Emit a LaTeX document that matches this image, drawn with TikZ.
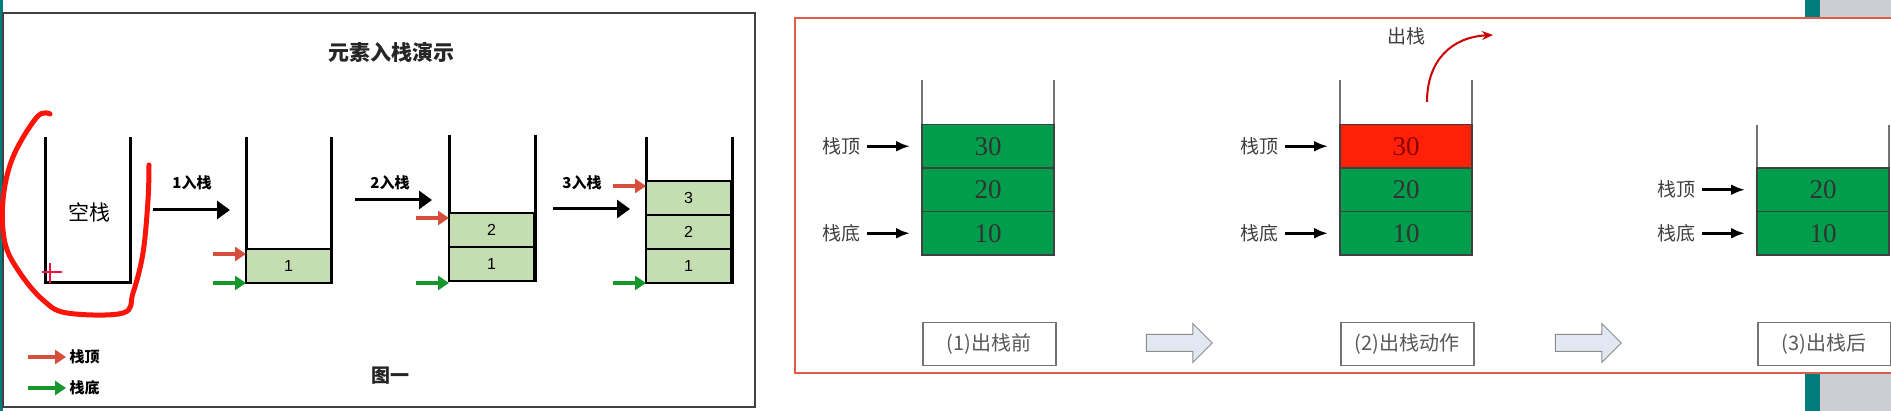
\documentclass[tikz,border=0pt]{standalone}
\usepackage{fontspec}
\setmainfont{Liberation Serif}
\setsansfont{Liberation Sans}
\newfontfamily\cjk{Noto Sans CJK SC}
\usetikzlibrary{arrows.meta}
\usetikzlibrary{positioning, shapes.arrows, math}
\definecolor{lightgreen}{RGB}{196,222,178}
\definecolor{topred}{RGB}{214,78,62}
\definecolor{bottomgreen}{RGB}{22,150,45}
\definecolor{stackgreen}{RGB}{0,158,76}
\definecolor{popred}{RGB}{255,32,8}
\definecolor{framered}{RGB}{222,92,72}
\definecolor{arrowfill}{RGB}{226,232,242}
\definecolor{stripteal}{RGB}{0,124,124}
\definecolor{sidegray}{RGB}{204,206,212}
\definecolor{penred}{RGB}{250,20,10}

\begin{document}
\begin{tikzpicture}[x=1pt, y=-1pt,
  wall/.style={line width=3pt},
  lbox/.style={draw, line width=2pt, fill=lightgreen, minimum width=\bwl pt, minimum height=\bhl pt, inner sep=0pt, outer sep=0pt, font=\sffamily\fontsize{16}{16}\selectfont},
  pushline/.style={-{Triangle[length=13pt,width=18pt]}, line width=3pt},
  topptr/.style={-{Triangle[length=11pt,width=14pt]}, line width=4pt, topred},
  botptr/.style={-{Triangle[length=11pt,width=14pt]}, line width=4pt, bottomgreen},
  llabel/.style={font=\cjk\bfseries\fontsize{15}{15}\selectfont},
  rwall/.style={line width=1.5pt, black!55},
  rbox/.style={draw=black!75, line width=1.5pt, fill=stackgreen, minimum width=\bwr pt, minimum height=\bhr pt, inner sep=0pt, outer sep=0pt, text=black!80, font=\fontsize{27}{27}\selectfont},
  rlabel/.style={font=\cjk\fontsize{19}{19}\selectfont, text=black!75},
  ptr/.style={-{Latex[length=14pt,width=11pt]}, line width=3pt, shorten <=3pt, shorten >=12pt},
  capbox/.style={draw=black!55, line width=1.5pt, minimum width=133pt, minimum height=43pt, font=\cjk\fontsize{20}{20}\selectfont, text=black!65},
  hollow/.style={single arrow, draw=black!45, fill=arrowfill, line width=1pt, minimum height=66pt, minimum width=38pt, single arrow head extend=11pt, inner xsep=0pt, inner ysep=8pt},
]
\tikzmath{
\bwl=85;
\bhl=34;
\bwr=132;
\bhr=43.5;
}
\useasboundingbox (0,0) rectangle (1891,411);
\fill[white] (0,0) rectangle (1891,411);

%left slide
\fill[stripteal] (0,0) rectangle (3,411);
\draw[black!75, line width=2pt] (3,13) rectangle (755,407);
\node[font=\cjk\bfseries\fontsize{21}{21}\selectfont, text=black!85] (title) at (391,52) {元素入栈演示};

%empty stack
\draw[wall] (45,137) -- (45,283) -- (130,283) -- (130,137);
\node[font=\cjk\fontsize{21}{21}\selectfont] (empty) at (89,212) {空栈};
\draw[penred, line width=5pt, line cap=round, line join=round] plot[smooth, tension=0.6] coordinates {(50,114) (37,117) (13,157) (3,200) (5,243) (20,273) (43,300) (67,313) (123,313) (133,293) (143,253) (148,200) (149,165)};
\draw[penred!80!magenta, line width=1.5pt] (42,272) -- (62,272) (50,263) -- (50,283);

%push 1
\coordinate (s1) at (153,210);
\coordinate (e1) at (230,210);
\draw[pushline] (s1) -- (e1);
\node[llabel] (push1) at (192,183) {1入栈};
\draw[wall] (246,137) -- (246,283) -- (331,283) -- (331,137);
\node[lbox, anchor=south west] (a1) at (246,283) {1};
\coordinate (atop) at ([shift={(-33,5)}]a1.north west);
\coordinate (abot) at ([shift={(-33,0)}]a1.south west);
\draw[topptr] (atop) -- (atop -| a1.west);
\draw[botptr] (abot) -- (a1.south west);

%push 2
\coordinate (s2) at (355,200);
\coordinate (e2) at (432,200);
\draw[pushline] (s2) -- (e2);
\node[llabel] (push2) at (390,183) {2入栈};
\draw[wall] (449,135) -- (449,281) -- (535,281) -- (535,135);
\node[lbox, anchor=south west] (b1) at (449,281) {1};
\node[lbox, above=0pt of b1] (b2) {2};
\coordinate (btop) at ([shift={(-33,5)}]b2.north west);
\coordinate (bbot) at ([shift={(-33,2)}]b1.south west);
\draw[topptr] (btop) -- (btop -| b2.west);
\draw[botptr] (bbot) -- (bbot -| b1.west);

%push 3
\coordinate (s3) at (553,209);
\coordinate (e3) at (630,209);
\draw[pushline] (s3) -- (e3);
\node[llabel] (push3) at (582,183) {3入栈};
\draw[wall] (646,137) -- (646,283) -- (732,283) -- (732,137);
\node[lbox, anchor=south west] (c1) at (646,283) {1};
\node[lbox, above=0pt of c1] (c2) {2};
\node[lbox, above=0pt of c2] (c3) {3};
\coordinate (ctop) at ([shift={(-33,5)}]c3.north west);
\coordinate (cbot) at ([shift={(-33,0)}]c1.south west);
\draw[topptr] (ctop) -- (ctop -| c3.west);
\draw[botptr] (cbot) -- (c1.south west);

%legend
\coordinate (lr) at (28,357);
\coordinate (lg) at (28,388);
\node[llabel, anchor=west] (legtop) at (66,357) {栈顶};
\node[llabel, anchor=west] (legbot) at (66,388) {栈底};
\draw[topptr] (lr) -- (legtop.west);
\draw[botptr] (lg) -- (legbot.west);
\node[font=\cjk\bfseries\fontsize{19}{19}\selectfont, text=black!85] (fig) at (390,376) {图一};

%right slide
\fill[sidegray] (1820,0) rectangle (1891,18);
\fill[sidegray] (1820,373) rectangle (1891,411);
\fill[stripteal] (1805,0) rectangle (1820,18);
\fill[stripteal] (1805,373) rectangle (1820,411);
\draw[framered, line width=2pt] (1891,18) -- (795,18) -- (795,373) -- (1891,373);

%before pop
\draw[rwall] (922,80) -- (922,255) -- (1054,255) -- (1054,80);
\node[rbox, anchor=south west] (p10) at (922,255) {10};
\node[rbox, above=0pt of p10] (p20) {20};
\node[rbox, above=0pt of p20] (p30) {30};
\node[rlabel, left=58pt of p30] (ptop) {栈顶};
\node[rlabel, left=58pt of p10] (pbot) {栈底};
\draw[ptr] (ptop) -- (p30);
\draw[ptr] (pbot) -- (p10);
\node[capbox, anchor=north west] (cap1) at (922,322) {(1)出栈前};
\node[hollow] (go1) at (1175,343) {};

%popping
\draw[rwall] (1340,80) -- (1340,255) -- (1472,255) -- (1472,80);
\node[rbox, anchor=south west] (q10) at (1340,255) {10};
\node[rbox, above=0pt of q10] (q20) {20};
\node[rbox, above=0pt of q20, fill=popred, text=red!55!black] (q30) {30};
\node[rlabel, left=58pt of q30] (qtop) {栈顶};
\node[rlabel, left=58pt of q10] (qbot) {栈底};
\draw[ptr] (qtop) -- (q30);
\draw[ptr] (qbot) -- (q10);
\node[rlabel] (pop) at (1406,36) {出栈};
\coordinate (popfrom) at (1427,102);
\coordinate (popto) at (1493,35);
\draw[-{Stealth[length=11pt,width=9pt]}, line width=2pt, red!80!black] (popfrom) .. controls (1427,60) and (1452,37) .. (popto);
\node[capbox, anchor=north west] (cap2) at (1340,322) {(2)出栈动作};
\node[hollow] (go2) at (1584,343) {};

%after pop
\draw[rwall] (1757,125) -- (1757,255) -- (1889,255) -- (1889,125);
\node[rbox, anchor=south west] (r10) at (1757,255) {10};
\node[rbox, above=0pt of r10] (r20) {20};
\node[rlabel, left=58pt of r20] (rtop) {栈顶};
\node[rlabel, left=58pt of r10] (rbot) {栈底};
\draw[ptr] (rtop) -- (r20);
\draw[ptr] (rbot) -- (r10);
\node[capbox, anchor=north west] (cap3) at (1757,322) {(3)出栈后};
\end{tikzpicture}
\end{document}
